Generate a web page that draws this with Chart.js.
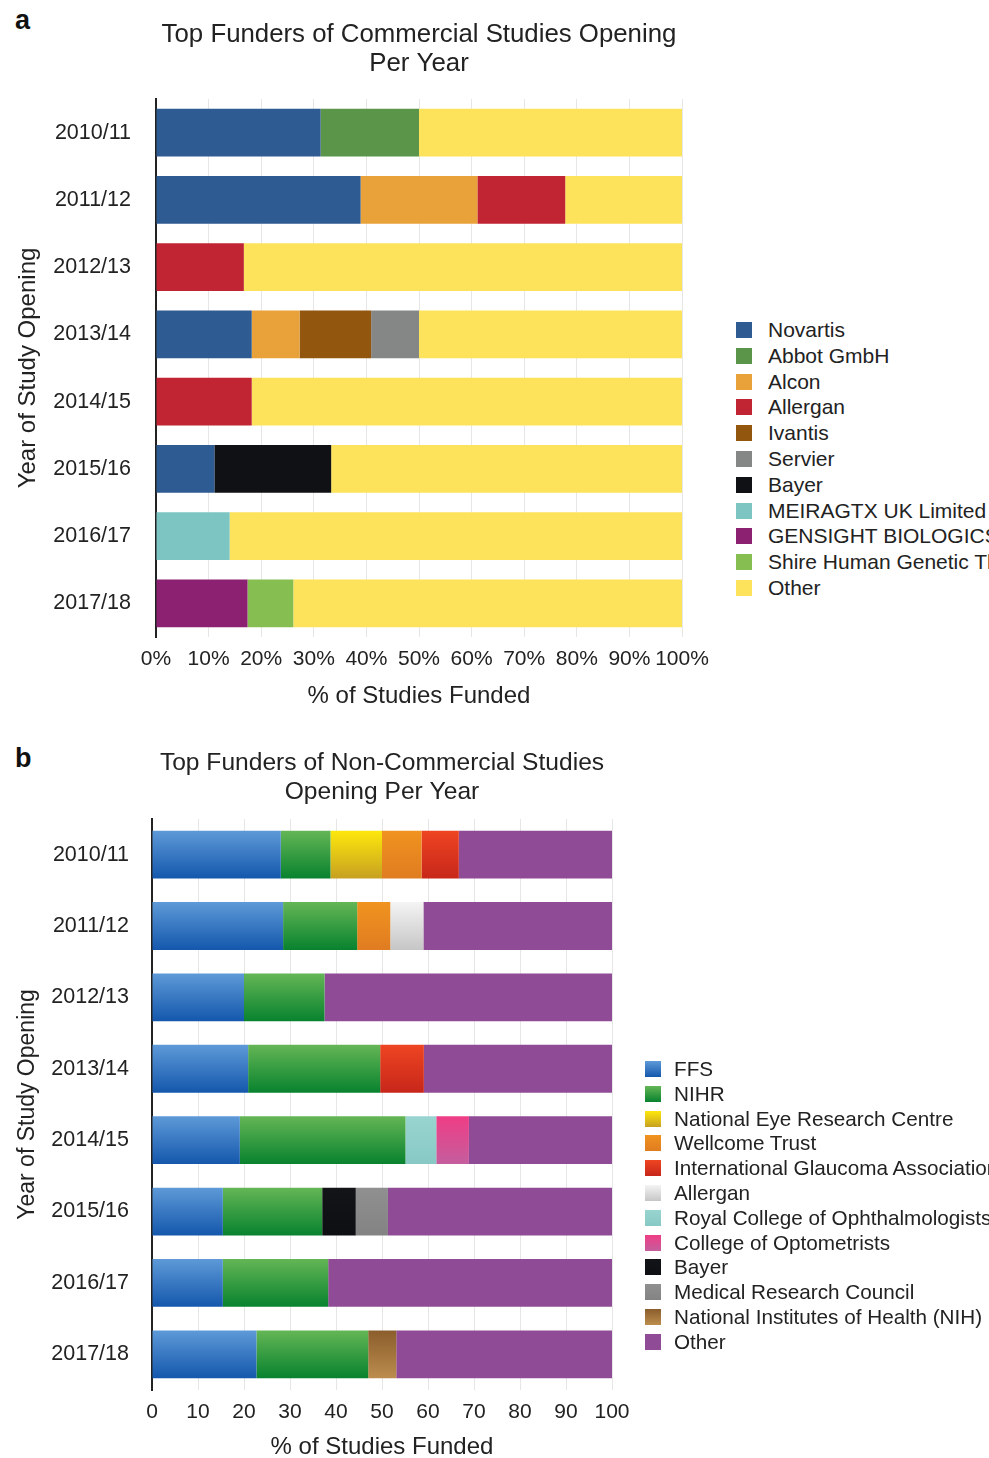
<!DOCTYPE html>
<html>
<head>
<meta charset="utf-8">
<script src="https://cdn.jsdelivr.net/npm/chart.js@4.4.0/dist/chart.umd.min.js"></script>
<style>
  html, body {
    margin: 0;
    padding: 0;
    background: #fff;
  }
  body {
    position: relative;
    width: 989px;
    height: 1458px;
    overflow: hidden;
    font-family: "Liberation Sans", Arial, sans-serif;
    color: #222;
  }
  .panel {
    position: absolute;
    left: 15px;
    font-size: 27px;
    line-height: 27px;
    font-weight: bold;
    color: #111;
  }
  canvas {
    position: absolute;
    left: 0;
  }
  .legend {
    position: absolute;
    white-space: nowrap;
  }
  .legend .row {
    position: absolute;
    left: 0;
    height: 20px;
    line-height: 20px;
  }
  .legend .box {
    position: absolute;
    left: 0;
    top: 2px;
    width: 16px;
    height: 16px;
  }
  .legend .txt {
    position: absolute;
    top: 0;
  }
</style>
</head>
<body>
<div class="panel" style="top:7px">a</div>
<div class="panel" style="top:745px">b</div>
<canvas id="chart-a" width="720" height="720" style="top:0px"></canvas>
<canvas id="chart-b" width="650" height="736" style="top:726px"></canvas>
<div id="legend-a" class="legend" style="left:736px;top:320px"></div>
<div id="legend-b" class="legend" style="left:645px;top:1059px"></div>

<script>
const years = ["2010/11", "2011/12", "2012/13", "2013/14", "2014/15", "2015/16", "2016/17", "2017/18"];
const xTicks = [0, 10, 20, 30, 40, 50, 60, 70, 80, 90, 100];

// panel a - commercial funders (% of studies)
const novartis = [31.3, 38.9, 0, 18.2, 0, 11.1, 0, 0];
const abbot = [18.7, 0, 0, 0, 0, 0, 0, 0];
const alcon = [0, 22.2, 0, 9.1, 0, 0, 0, 0];
const allerganA = [0, 16.7, 16.7, 0, 18.2, 0, 0, 0];
const ivantis = [0, 0, 0, 13.6, 0, 0, 0, 0];
const servier = [0, 0, 0, 9.1, 0, 0, 0, 0];
const bayerA = [0, 0, 0, 0, 0, 22.2, 0, 0];
const meiragtx = [0, 0, 0, 0, 0, 0, 14.0, 0];
const gensight = [0, 0, 0, 0, 0, 0, 0, 17.4];
const shire = [0, 0, 0, 0, 0, 0, 0, 8.7];
const otherA = [50.0, 22.2, 83.3, 50.0, 81.8, 66.7, 86.0, 73.9];

// panel b - non-commercial funders (% of studies)
const ffs = [28.0, 28.5, 20.0, 20.9, 19.1, 15.4, 15.4, 22.7];
const nihr = [10.8, 16.1, 17.5, 28.7, 36.0, 21.6, 22.9, 24.3];
const nerc = [11.2, 0, 0, 0, 0, 0, 0, 0];
const wellcome = [8.6, 7.2, 0, 0, 0, 0, 0, 0];
const iga = [8.1, 0, 0, 9.5, 0, 0, 0, 0];
const allerganB = [0, 7.2, 0, 0, 0, 0, 0, 0];
const rco = [0, 0, 0, 0, 6.7, 0, 0, 0];
const coo = [0, 0, 0, 0, 7.1, 0, 0, 0];
const bayerB = [0, 0, 0, 0, 0, 7.3, 0, 0];
const mrc = [0, 0, 0, 0, 0, 7.0, 0, 0];
const nih = [0, 0, 0, 0, 0, 0, 0, 6.1];
const otherB = [33.3, 41.0, 62.5, 40.9, 31.1, 48.7, 61.7, 46.9];

const seriesA = [
  { label: "Novartis", data: novartis, color: "#2E5B91" },
  { label: "Abbot GmbH", data: abbot, color: "#5A954A" },
  { label: "Alcon", data: alcon, color: "#E9A23A" },
  { label: "Allergan", data: allerganA, color: "#C12433" },
  { label: "Ivantis", data: ivantis, color: "#93560F" },
  { label: "Servier", data: servier, color: "#858787" },
  { label: "Bayer", data: bayerA, color: "#101114" },
  { label: "MEIRAGTX UK Limited", data: meiragtx, color: "#7CC5C2" },
  { label: "GENSIGHT BIOLOGICS", data: gensight, color: "#8C2071" },
  { label: "Shire Human Genetic Therapies", data: shire, color: "#86BE52" },
  { label: "Other", data: otherA, color: "#FDE35B" },
];

const seriesB = [
  { label: "FFS", data: ffs, color: ["#5E9AD8", "#1457AC"] },
  { label: "NIHR", data: nihr, color: ["#64B655", "#08822F"] },
  { label: "National Eye Research Centre", data: nerc, color: ["#FDE80C", "#C7A021"] },
  { label: "Wellcome Trust", data: wellcome, color: ["#F0931F", "#E07C21"] },
  { label: "International Glaucoma Association", data: iga, color: ["#EE4522", "#C7261A"] },
  { label: "Allergan", data: allerganB, color: ["#F4F4F4", "#C6C6C6"] },
  { label: "Royal College of Ophthalmologists", data: rco, color: ["#98D4D0", "#88C9C5"] },
  { label: "College of Optometrists", data: coo, color: ["#EF3D85", "#C45E9E"] },
  { label: "Bayer", data: bayerB, color: ["#131417", "#0E0F12"] },
  { label: "Medical Research Council", data: mrc, color: ["#909090", "#838383"] },
  { label: "National Institutes of Health (NIH)", data: nih, color: ["#8A5D2C", "#BC8D4E"] },
  { label: "Other", data: otherB, color: ["#8F4B95", "#8F4B95"] },
];

const FONT = "'Liberation Sans', Arial, sans-serif";

// vertical gradient for each bar (panel b has glossy bars)
function barGradient(stops, half) {
  return function (ctx) {
    const chart = ctx.chart;
    if (!chart.chartArea || ctx.dataIndex === undefined) return stops[0];
    const yc = chart.scales.y.getPixelForValue(ctx.dataIndex);
    const g = chart.ctx.createLinearGradient(0, yc - half, 0, yc + half);
    g.addColorStop(0, stops[0]);
    g.addColorStop(1, stops[1]);
    return g;
  };
}

function makeChart(id, series, opts) {
  const ctx = document.getElementById(id).getContext("2d");
  return new Chart(ctx, {
    type: "bar",
    data: {
      labels: years,
      datasets: series.map((s) => ({
        label: s.label,
        data: s.data,
        backgroundColor: Array.isArray(s.color) ? barGradient(s.color, opts.half) : s.color,
        borderWidth: 0,
        barPercentage: opts.barPct,
        categoryPercentage: 1.0,
      })),
    },
    options: {
      indexAxis: "y",
      responsive: false,
      animation: false,
      layout: {
        padding: { left: 0, right: opts.padRight, top: 0, bottom: opts.padBottom },
      },
      plugins: {
        legend: { display: false },
        tooltip: { enabled: false },
        title: {
          display: true,
          fullSize: false,
          text: opts.title,
          color: "#222",
          font: { family: FONT, size: opts.titleSize, weight: "normal", lineHeight: opts.titleLH },
          padding: { top: opts.titleTop, bottom: opts.titleBottom },
        },
      },
      scales: {
        x: {
          stacked: true,
          min: 0,
          max: 100,
          afterBuildTicks: (scale) => {
            scale.ticks = xTicks.map((v) => ({ value: v }));
          },
          afterFit: (scale) => {
            scale.height = opts.xHeight;
          },
          grid: { color: "#E6E6E6", lineWidth: 1, drawTicks: false },
          border: { display: false },
          ticks: {
            padding: 10,
            color: "#222",
            font: { family: FONT, size: 21 },
            callback: opts.tickFmt,
            maxRotation: 0,
            autoSkip: false,
          },
          title: {
            display: true,
            text: "% of Studies Funded",
            color: "#222",
            font: { family: FONT, size: 24 },
            padding: { top: 0, bottom: opts.xTitleBottom },
          },
        },
        y: {
          stacked: true,
          afterFit: (scale) => {
            scale.width = opts.yWidth;
          },
          grid: { display: false },
          border: { display: true, color: "#222", width: 2 },
          ticks: {
            padding: opts.yTickPad,
            color: "#222",
            font: { family: FONT, size: 21.5 },
          },
          title: {
            display: true,
            text: "Year of Study Opening",
            color: "#222",
            font: { family: FONT, size: opts.yTitleSize },
            padding: { top: 14, bottom: 0 },
          },
        },
      },
    },
  });
}

function drawLegend(id, series, step, size, textLeft) {
  const el = document.getElementById(id);
  series.forEach((s, i) => {
    const row = document.createElement("div");
    row.className = "row";
    row.style.top = i * step + "px";
    row.style.fontSize = size + "px";
    const box = document.createElement("div");
    box.className = "box";
    box.style.background = Array.isArray(s.color)
      ? "linear-gradient(" + s.color[0] + "," + s.color[1] + ")"
      : s.color;
    const txt = document.createElement("span");
    txt.className = "txt";
    txt.style.left = textLeft + "px";
    txt.textContent = s.label;
    row.appendChild(box);
    row.appendChild(txt);
    el.appendChild(row);
  });
}

makeChart("chart-a", seriesA, {
  title: ["Top Funders of Commercial Studies Opening", "Per Year"],
  titleSize: 25.8,
  titleLH: 1.1,
  titleTop: 21,
  titleBottom: 21.2,
  yWidth: 156,
  yTickPad: 17,
  yTitleSize: 24,
  xHeight: 80,
  xTitleBottom: 6,
  padRight: 38,
  padBottom: 3,
  barPct: 0.71,
  half: 24,
  tickFmt: (v) => v + "%",
});

makeChart("chart-b", seriesB, {
  title: ["Top Funders of Non-Commercial Studies", "Opening Per Year"],
  titleSize: 24.6,
  titleLH: 1.2,
  titleTop: 22.2,
  titleBottom: 11.7,
  yWidth: 152,
  yTickPad: 15,
  yTitleSize: 23,
  xHeight: 72,
  xTitleBottom: 0,
  padRight: 38,
  padBottom: 0,
  barPct: 0.67,
  half: 24,
  tickFmt: (v) => v,
});

drawLegend("legend-a", seriesA, 25.8, 21, 32);
drawLegend("legend-b", seriesB, 24.8, 20.7, 29);
</script>
</body>
</html>
